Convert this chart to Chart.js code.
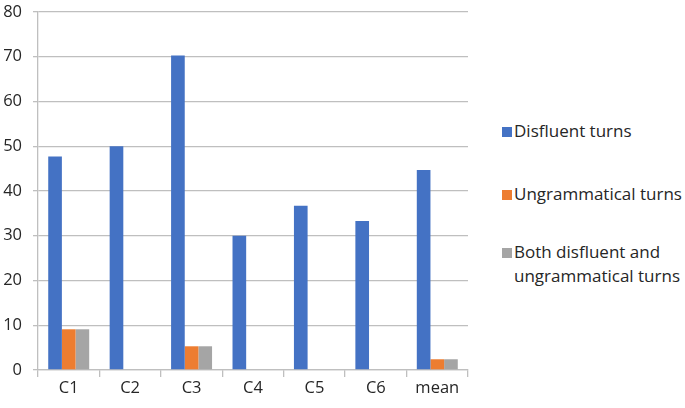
<!DOCTYPE html>
<html>
<head>
<meta charset="utf-8">
<script src="https://cdn.jsdelivr.net/npm/chart.js@4.4.1/dist/chart.umd.min.js"></script>
<style>
  body { margin: 0; background: #fff; font-family: "Open Sans", sans-serif; }
  #wrap { position: relative; width: 685px; height: 408px; }
  #box { position: absolute; left: 0; top: 0; width: 472px; height: 408px; }
  #legend { position: absolute; left: 502px; top: 0; color: #262626; font-size: 17px; }
  .item { position: absolute; left: 0; white-space: nowrap; line-height: 24px; }
  .sw { position: absolute; left: 0; top: 8px; width: 10px; height: 10px; }
  .txt { position: absolute; left: 12px; top: 0; }
</style>
</head>
<body>
<div id="wrap">
  <div id="box"><canvas id="grafico"></canvas></div>
  <div id="legend"></div>
</div>
<script>
const categorias = ["C1", "C2", "C3", "C4", "C5", "C6", "mean"];
const disfluent = [47.7, 50, 70.3, 30, 36.7, 33.3, 44.7];
const ungrammatical = [9.1, 0, 5.3, 0, 0, 0, 2.4];
const ambos = [9.1, 0, 5.3, 0, 0, 0, 2.4];
const nomes = ["Disfluent turns", "Ungrammatical turns", ["Both disfluent and", "ungrammatical turns"]];
const cores = ["#4472C4", "#ED7D31", "#A5A5A5"];

const grafico = document.getElementById("grafico");

new Chart(grafico, {
  type: "bar",
  data: {
    labels: categorias,
    datasets: [
      { label: "Disfluent turns", data: disfluent, backgroundColor: cores[0] },
      { label: "Ungrammatical turns", data: ungrammatical, backgroundColor: cores[1] },
      { label: "Both disfluent and ungrammatical turns", data: ambos, backgroundColor: cores[2] },
    ],
  },
  options: {
    responsive: true,
    maintainAspectRatio: false,
    animation: false,
    layout: {
      padding: { top: 0, right: 4, left: 0, bottom: 0 },
    },
    datasets: {
      bar: {
        categoryPercentage: 0.667,
        barPercentage: 1,
      },
    },
    scales: {
      y: {
        min: 0,
        max: 80,
        ticks: {
          stepSize: 10,
          color: "#262626",
          padding: 11,
          font: { size: 16.5, family: "Open Sans" },
        },
        grid: {
          color: "#BFBFBF",
          lineWidth: 1.3,
          tickLength: 5,
        },
        border: { color: "#BFBFBF", width: 1.3 },
        afterFit: function (scale) {
          scale.width = 38;
          scale.paddingTop = 12;
          scale.paddingBottom = 0;
        },
      },
      x: {
        ticks: {
          color: "#262626",
          padding: 1,
          font: { size: 16.5, family: "Open Sans" },
        },
        grid: {
          offset: true,
          drawOnChartArea: false,
          color: "#BFBFBF",
          lineWidth: 1.3,
          tickLength: 7,
        },
        border: { color: "#BFBFBF", width: 1.3 },
        afterFit: function (scale) {
          scale.height = 38;
        },
      },
    },
    plugins: {
      legend: { display: false },
      tooltip: { enabled: false },
    },
  },
});

// legenda em HTML, porque o último item tem duas linhas
const legenda = document.getElementById("legend");
const topos = [119, 182, 240];
nomes.forEach(function (nome, i) {
  const item = document.createElement("div");
  item.className = "item";
  item.style.top = topos[i] + "px";
  const sw = document.createElement("div");
  sw.className = "sw";
  sw.style.background = cores[i];
  const txt = document.createElement("div");
  txt.className = "txt";
  txt.innerHTML = Array.isArray(nome) ? nome.join("<br>") : nome;
  item.appendChild(sw);
  item.appendChild(txt);
  legenda.appendChild(item);
});
</script>
</body>
</html>
